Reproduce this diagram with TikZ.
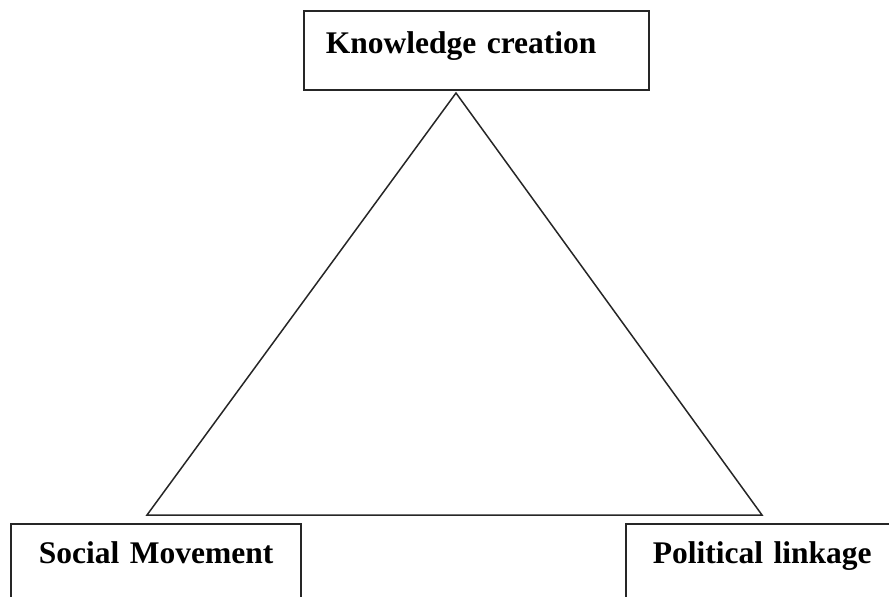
\documentclass[tikz,border=0pt]{standalone}
\usepackage{fontspec}
\setmainfont{Liberation Serif}
\begin{document}
\begin{tikzpicture}[x=1pt,y=-1pt,
  box/.style={draw=black!85, line width=1.6pt, rectangle, anchor=north west,
    inner ysep=0pt, align=left,
    font=\fontsize{31.5}{36}\selectfont\bfseries}]
\useasboundingbox (0,0) rectangle (889,597);
\clip (0,0) rectangle (889,597);
\node[box, inner xsep=22pt, text width=301pt, text height=43pt, text depth=36pt] (kc) at (303,10) {\mbox{Knowledge creation}};
\node[box, inner xsep=28pt, text width=234pt, text height=40pt, text depth=70pt] (sm) at (10,523) {\mbox{Social Movement}};
\node[box, inner xsep=27pt, text width=246pt, text height=40pt, text depth=70pt] (pl) at (625,523) {\mbox{Political linkage}};
\coordinate (apex) at (456,93);
\coordinate (bl) at (147,515);
\coordinate (br) at (762,515);
\draw[line width=1.5pt, black!85, line join=miter] (apex) -- (bl) -- (br) -- cycle;
\end{tikzpicture}
\end{document}
